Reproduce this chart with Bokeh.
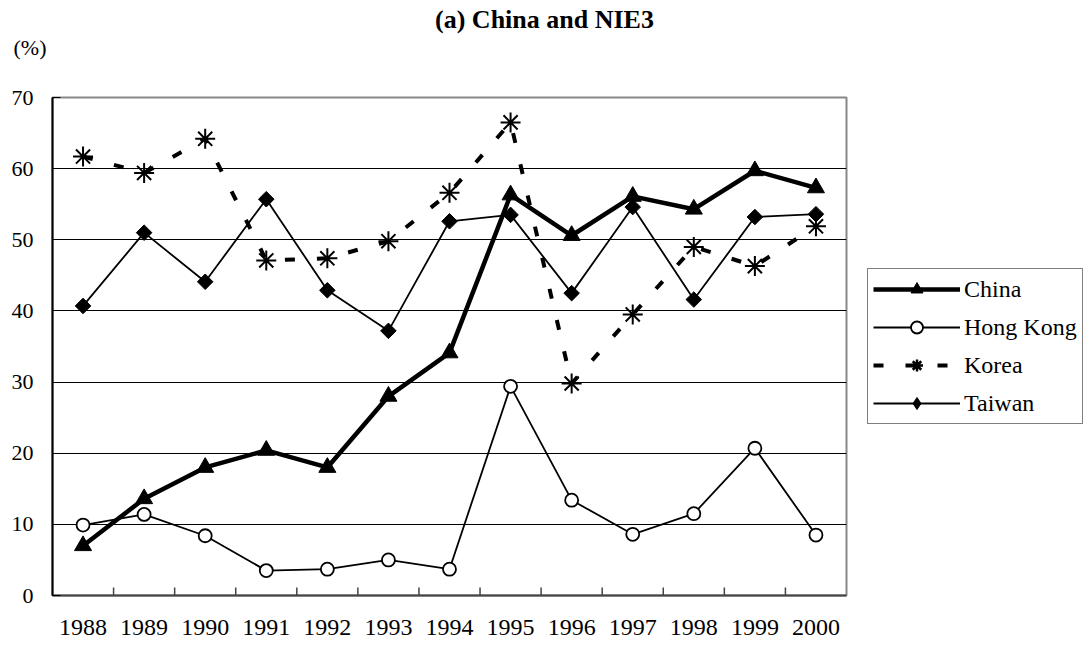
import math
from bokeh.plotting import figure
from bokeh.layouts import row, column
from bokeh.models import FixedTicker, Legend, LegendItem, Label, Range1d
from bokeh.embed import file_html
from bokeh.resources import INLINE

# ---- data ----
years = ["1988", "1989", "1990", "1991", "1992", "1993", "1994",
         "1995", "1996", "1997", "1998", "1999", "2000"]
china = [7.0, 13.6, 18.0, 20.4, 18.0, 28.0, 34.1, 56.3, 50.6, 56.1, 54.3, 59.7, 57.3]
hong_kong = [9.9, 11.4, 8.4, 3.5, 3.7, 5.0, 3.7, 29.4, 13.4, 8.6, 11.5, 20.7, 8.5]
korea = [61.7, 59.4, 64.2, 47.1, 47.4, 49.8, 56.6, 66.5, 29.8, 39.5, 49.0, 46.3, 51.9]
taiwan = [40.7, 51.0, 44.1, 55.7, 42.9, 37.2, 52.6, 53.5, 42.5, 54.6, 41.6, 53.2, 53.6]
series_names = ["China", "Hong Kong", "Korea", "Taiwan"]
y_ticks = [0, 10, 20, 30, 40, 50, 60, 70]
title_text = "(a) China and NIE3"
unit_text = "(%)"

FONT = "Liberation Serif"
n = len(years)
xs = list(range(n))
boundaries = [i + 0.5 for i in range(n - 1)]

TOTAL_W, TOTAL_H = 1088, 647
TOP_H = 80
FRAME_TOP = 97
FRAME_H = 498
Y_MAX = 70
px_per_unit = FRAME_H / Y_MAX
MAIN_W = 848
MAIN_H = TOTAL_H - TOP_H


def blank(w, h, xr, yr):
    f = figure(width=w, height=h, x_range=xr, y_range=yr,
               output_backend="svg", toolbar_location=None,
               min_border_left=0, min_border_right=0, min_border_top=0,
               min_border_bottom=0)
    f.axis.visible = False
    f.grid.visible = False
    f.outline_line_color = None
    f.background_fill_color = "white"
    f.border_fill_color = "white"
    return f


# ---- header strip with title and unit (pixel coordinates) ----
top = blank(TOTAL_W, TOP_H, Range1d(0, TOTAL_W), Range1d(TOP_H, 0))
top.add_layout(Label(x=544, y=19, text=title_text, text_font=FONT,
                     text_font_size="26px", text_font_style="bold",
                     text_align="center", text_baseline="alphabetic",
                     text_color="black"))
top.add_layout(Label(x=13, y=47, text=unit_text, text_font=FONT,
                     text_font_size="22px", text_align="left",
                     text_baseline="alphabetic", text_color="black"))

# ---- main plot ----
p = figure(width=MAIN_W, height=MAIN_H, x_range=(-0.5, n - 0.5),
           y_range=(0, Y_MAX), output_backend="svg", toolbar_location=None,
           min_border_left=52, min_border_right=2,
           min_border_top=FRAME_TOP - TOP_H,
           min_border_bottom=MAIN_H - (FRAME_TOP - TOP_H) - FRAME_H)
p.background_fill_color = "white"
p.border_fill_color = "white"
p.outline_line_color = "#888888"
p.outline_line_width = 2

p.xgrid.visible = False
p.ygrid.ticker = FixedTicker(ticks=y_ticks)
p.ygrid.grid_line_color = "black"
p.ygrid.grid_line_width = 1

p.yaxis.ticker = FixedTicker(ticks=y_ticks)
p.yaxis.axis_line_color = "black"
p.yaxis.axis_line_width = 2
p.yaxis.major_tick_in = 8
p.yaxis.major_tick_out = 0
p.yaxis.major_tick_line_color = "black"
p.yaxis.minor_tick_line_color = None
p.yaxis.major_label_standoff = 19
p.yaxis.major_label_text_font = FONT
p.yaxis.major_label_text_font_size = "22px"
p.yaxis.major_label_text_color = "black"

p.xaxis.ticker = FixedTicker(ticks=xs)
p.xaxis.major_label_overrides = {i: y for i, y in zip(xs, years)}
p.xaxis.axis_line_color = "#444444"
p.xaxis.axis_line_width = 2
p.xaxis.major_tick_in = 0
p.xaxis.major_tick_out = 0
p.xaxis.minor_tick_line_color = None
p.xaxis.major_label_standoff = 24
p.xaxis.major_label_text_font = FONT
p.xaxis.major_label_text_font_size = "24px"
p.xaxis.major_label_text_color = "black"

# category boundary tick marks (inside)
p.segment(x0=boundaries, y0=[0] * len(boundaries), x1=boundaries,
          y1=[8 / px_per_unit] * len(boundaries),
          line_color="#444444", line_width=1.5)

STY = {
    "China": dict(lw=4.5, dash="solid", marker="triangle", size=17, fill="black", mlw=1),
    "Hong Kong": dict(lw=1.8, dash="solid", marker="circle", size=13, fill="white", mlw=1.8),
    "Korea": dict(lw=4, dash="10 22", marker="asterisk", size=20, fill="black", mlw=2),
    "Taiwan": dict(lw=1.8, dash="solid", marker="square", size=11, fill="black", mlw=1),
}
data = {"China": china, "Hong Kong": hong_kong, "Korea": korea, "Taiwan": taiwan}
for name in series_names:
    s = STY[name]
    p.line(xs, data[name], line_color="black", line_width=s["lw"], line_dash=s["dash"])
    kw = dict(marker=s["marker"], size=s["size"], fill_color=s["fill"],
              line_color="black", line_width=s["mlw"])
    if name == "Taiwan":
        kw["angle"] = math.pi / 4
    p.scatter(xs, data[name], **kw)

# ---- legend strip to the right ----
pl = blank(TOTAL_W - MAIN_W, MAIN_H, Range1d(0, 1), Range1d(0, 1))
LEG = {
    "China": dict(marker="triangle", size=15, fill="black", mlw=1),
    "Hong Kong": dict(marker="circle", size=11, fill="white", mlw=1.8),
    "Korea": dict(marker="asterisk", size=16, fill="black", mlw=2.5),
    "Taiwan": dict(marker="diamond", size=17, fill="black", mlw=1),
}
items = []
for name in series_names:
    s = STY[name]
    m = LEG[name]
    # legend proxies: one point placed outside the visible range
    rl = pl.line([-5, -4], [-5, -4], line_color="black", line_width=s["lw"],
                 line_dash=s["dash"])
    rm = pl.scatter([-5], [-5], marker=m["marker"], size=m["size"],
                    fill_color=m["fill"], line_color="black", line_width=m["mlw"])
    items.append(LegendItem(label=name, renderers=[rl, rm]))

legend = Legend(items=items)
legend.location = (867 - MAIN_W, 171)
legend.margin = 0
legend.padding = 5
legend.spacing = 8
legend.glyph_width = 87
legend.glyph_height = 30
legend.label_height = 30
legend.label_standoff = 4
legend.label_text_font = FONT
legend.label_text_font_size = "24px"
legend.label_text_color = "black"
legend.border_line_color = "black"
legend.border_line_width = 1.5
legend.background_fill_color = "white"
legend.background_fill_alpha = 1
pl.add_layout(legend, "center")

layout = column(top, row(p, pl, spacing=0), spacing=0)
open("out.html", "w").write(file_html(layout, INLINE))
